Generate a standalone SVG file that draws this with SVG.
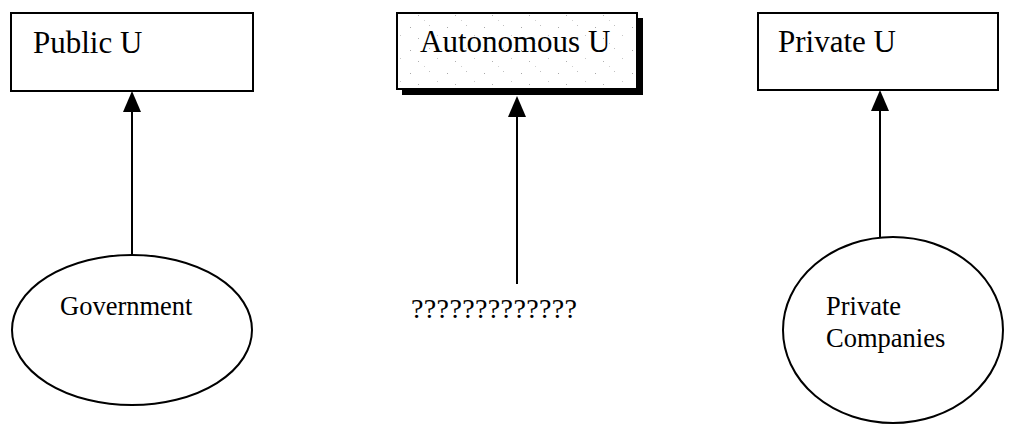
<svg xmlns="http://www.w3.org/2000/svg" width="1015" height="425" viewBox="0 0 1015 425">
  <defs>
    <style>
      .box { fill: #ffffff; stroke: #000000; stroke-width: 2; }
      .shaded { fill: url(#speckle); stroke: #000000; stroke-width: 2; }
      .shadow { fill: #000000; }
      .oval { fill: #ffffff; stroke: #000000; stroke-width: 2; }
      .wire { stroke: #000000; stroke-width: 2; fill: none; }
      .head { fill: #000000; }
      .big { font-family: "Liberation Serif", "Times New Roman", serif; font-size: 31px; fill: #000000; }
      .small { font-family: "Liberation Serif", "Times New Roman", serif; font-size: 26.5px; fill: #000000; }
      .qs { font-family: "Liberation Serif", "Times New Roman", serif; font-size: 28px; fill: #000000; }
    </style>
    <!-- sparse grey speckle used as the shaded box fill -->
    <pattern id="speckle" width="37" height="23" patternUnits="userSpaceOnUse">
      <rect width="37" height="23" fill="#ffffff"/>
      <rect x="3" y="4" width="1" height="1" fill="#a8a8a8"/>
      <rect x="22" y="2" width="1" height="1" fill="#c0c0c0"/>
      <rect x="11" y="15" width="1" height="1" fill="#b0b0b0"/>
      <rect x="30" y="12" width="1" height="1" fill="#c8c8c8"/>
      <rect x="17" y="20" width="1" height="1" fill="#d0d0d0"/>
    </pattern>
  </defs>

  <g id="connectors">
    <line class="wire" x1="132" y1="255" x2="132" y2="105"/>
    <line class="wire" x1="517" y1="284" x2="517" y2="110"/>
    <line class="wire" x1="880" y1="237" x2="880" y2="104"/>
    <path class="head" d="M132,91 L141,112 L123,112 Z"/>
    <path class="head" d="M517,96 L526,117 L508,117 Z"/>
    <path class="head" d="M880,90 L889,111 L871,111 Z"/>
  </g>

  <g id="public-u">
    <rect class="box" x="11" y="13" width="242" height="78"/>
    <text class="big" x="33" y="53">Public U</text>
  </g>

  <g id="autonomous-u">
    <rect class="shadow" x="402" y="18" width="241" height="77"/>
    <rect class="shaded" x="397" y="13" width="240" height="76"/>
    <text class="big" x="420" y="52">Autonomous U</text>
  </g>

  <g id="private-u">
    <rect class="box" x="758" y="13" width="240" height="77"/>
    <text class="big" x="778" y="52">Private U</text>
  </g>

  <g id="government">
    <ellipse class="oval" cx="132" cy="330" rx="120" ry="75"/>
    <text class="small" x="60" y="315">Government</text>
  </g>

  <g id="unknown">
    <text class="qs" x="411" y="318" textLength="166">?????????????</text>
  </g>

  <g id="private-companies">
    <ellipse class="oval" cx="893" cy="330" rx="110" ry="93"/>
    <text class="small" x="826" y="315">Private</text>
    <text class="small" x="826" y="347">Companies</text>
  </g>
</svg>
